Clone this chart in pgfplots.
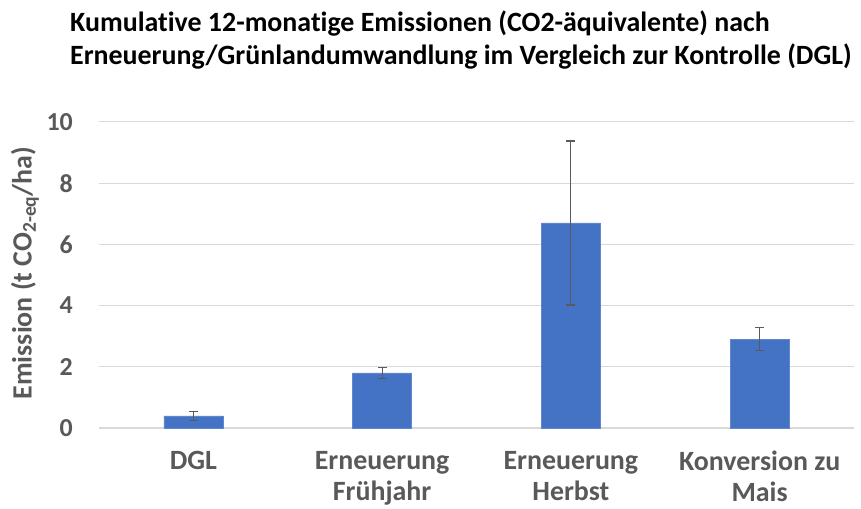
\documentclass[border=0pt]{standalone}
\usepackage{pgfplots}
\pgfplotsset{compat=1.18}
\usepackage{fontspec}
\setmainfont{Carlito}[Ligatures=NoCommon]
\definecolor{barblue}{HTML}{4472C4}
\definecolor{txtgray}{HTML}{595959}
\definecolor{gridgray}{HTML}{D9D9D9}
\definecolor{errgray}{HTML}{5A5A5A}
\begin{document}
\begin{tikzpicture}[x=1bp,y=1bp]
\path[use as bounding box] (0,0) rectangle (861,509);
\begin{axis}[
  at={(99bp,81bp)}, anchor=south west,
  scale only axis, width=755bp, height=306bp,
  xmin=-0.5, xmax=3.5, ymin=0, ymax=10,
  ytick={0,2,4,6,8,10},
  xtick={0,1,2,3},
  xticklabels={DGL,{Erneuerung\\Frühjahr},{Erneuerung\\Herbst},{Konversion zu\\Mais}},
  axis x line*=bottom,
  axis y line*=left,
  x axis line style={draw=gridgray, line width=1.2bp, -},
  y axis line style={draw=none},
  ymajorgrids, grid style={gridgray, line width=1bp},
  major tick length=0pt,
  /pgf/number format/assume math mode=true,
  yticklabel style={font=\fontsize{26}{30}\selectfont\bfseries, text=txtgray, inner sep=0pt, anchor=east, xshift=-26bp},
  xticklabel style={font=\fontsize{28}{31}\selectfont\bfseries, text=txtgray, align=center, inner sep=0pt, anchor=north, yshift=-23bp},
  clip=false,
]
\addplot[ybar, bar width=59bp, fill=barblue, draw=barblue!85!white,
  error bars/.cd, y dir=both, y explicit,
  error bar style={color=errgray, line width=1.1bp},
  error mark options={rotate=90, mark size=4.5bp, color=errgray, line width=1.1bp}]
  coordinates {
  (0,0.40) +- (0,0.15)
  (1,1.80) +- (0,0.17)
  (2,6.70) +- (0,2.68)
  (3,2.90) +- (0,0.37)
  };
\end{axis}
\node[anchor=base west, inner sep=0pt, font=\fontsize{28}{33}\selectfont\bfseries] at (70,477)
  {Kumulative 12-monatige Emissionen (CO2-äquivalente) nach};
\node[anchor=base west, inner sep=0pt, font=\fontsize{28}{33}\selectfont\bfseries] at (70,444)
  {Erneuerung/Grünlandumwandlung im Vergleich zur Kontrolle (DGL)};
\node[rotate=90, inner sep=0pt, text=txtgray, font=\fontsize{28}{30}\selectfont\bfseries] at (25,236)
  {Emission (t CO\textsubscript{2-eq}/ha)};
\end{tikzpicture}
\end{document}
